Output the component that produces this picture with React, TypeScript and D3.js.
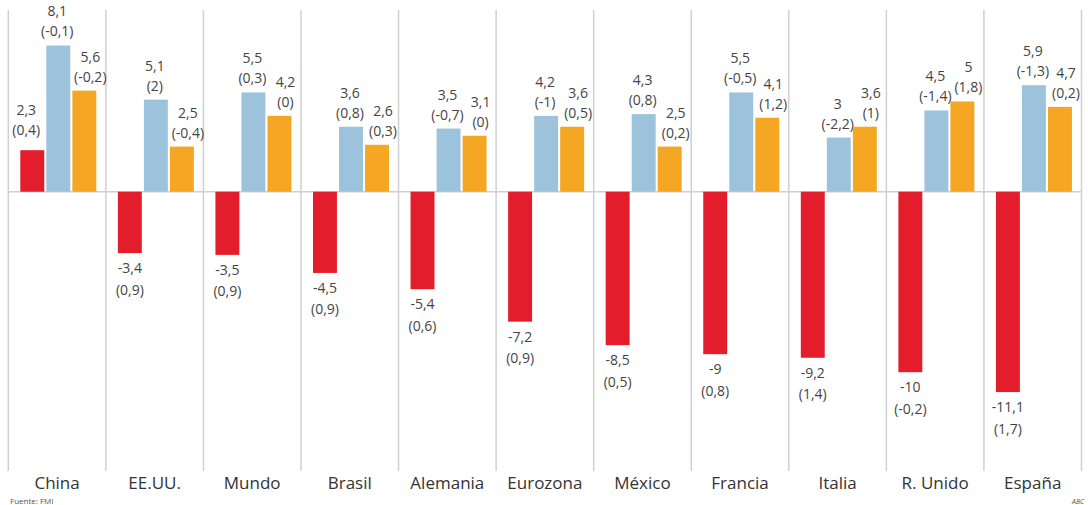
import React, { useEffect, useRef } from 'react';
import * as d3 from 'd3';

// categorias y valores (previsiones FMI: 2020, 2021 y variación)
const categories = ['China', 'EE.UU.', 'Mundo', 'Brasil', 'Alemania', 'Eurozona', 'México', 'Francia', 'Italia', 'R. Unido', 'España'];
const series = ['a2020', 'a2021', 'a2022'];
const values2020 = [2.3, -3.4, -3.5, -4.5, -5.4, -7.2, -8.5, -9, -9.2, -10, -11.1];
const changes2020 = ['0,4', '0,9', '0,9', '0,9', '0,6', '0,9', '0,5', '0,8', '1,4', '-0,2', '1,7'];
const values2021 = [8.1, 5.1, 5.5, 3.6, 3.5, 4.2, 4.3, 5.5, 3, 4.5, 5.9];
const changes2021 = ['-0,1', '2', '0,3', '0,8', '-0,7', '-1', '0,8', '-0,5', '-2,2', '-1,4', '-1,3'];
const values2022 = [5.6, 2.5, 4.2, 2.6, 3.1, 3.6, 2.5, 4.1, 3.6, 5, 4.7];
const changes2022 = ['-0,2', '-0,4', '0', '0,3', '0', '0,5', '0,2', '1,2', '1', '1,8', '0,2'];

const colors = ['#e41d2c', '#9dc3dc', '#f5a623'];
const fmt = (v: number) => String(v).replace('.', ',');

const Chart = () => {
  const svgRef = useRef<SVGSVGElement>(null);

  useEffect(() => {
    const width = 1088;
    const height = 505;
    const svg = d3.select(svgRef.current).attr('width', width).attr('height', height);
    svg.selectAll('*').remove();

    const x = d3.scaleBand().domain(categories).range([8.3, 1081.5]).paddingInner(0);
    const xSub = d3.scaleBand().domain(series).range([12, 88]).paddingInner(0.08);
    const y = d3.scaleLinear().domain([-12, 9]).range([191.7 + 12 * 18.05, 191.7 - 9 * 18.05]);

    const allValues = [values2020, values2021, values2022];
    const allChanges = [changes2020, changes2021, changes2022];
    const labelShift = [-6, -1, 6];

    // separadores verticales
    const bounds = [...categories.map(c => x(c)!), 1081.5];
    svg.append('g')
      .selectAll('line')
      .data(bounds)
      .join('line')
      .attr('x1', d => d).attr('x2', d => d)
      .attr('y1', 10).attr('y2', 471)
      .style('stroke', '#d0d0d0')
      .style('stroke-width', 1.5);

    // linea cero
    svg.append('line')
      .attr('x1', 8.3).attr('x2', 1081.5)
      .attr('y1', y(0)).attr('y2', y(0))
      .style('stroke', '#d0d0d0')
      .style('stroke-width', 1.5);

    series.forEach((s, si) => {
      const vals = allValues[si];
      const chg = allChanges[si];
      const g = svg.append('g');

      g.selectAll('rect')
        .data(categories)
        .join('rect')
        .attr('x', (c) => x(c)! + xSub(s)!)
        .attr('width', xSub.bandwidth())
        .attr('y', (c, i) => y(Math.max(0, vals[i])))
        .attr('height', (c, i) => Math.abs(y(vals[i]) - y(0)))
        .style('fill', colors[si]);

      const labels = g.selectAll('text.val')
        .data(categories)
        .join('text')
        .attr('class', 'val')
        .attr('text-anchor', 'middle')
        .style('font-family', '"Open Sans", sans-serif')
        .style('font-size', '14px')
        .style('fill', '#444');

      labels.each(function (c, i) {
        const v = vals[i];
        const cx = x(c)! + xSub(s)! + xSub.bandwidth() / 2 + (v >= 0 ? labelShift[si] : 0);
        const t = d3.select(this);
        if (v >= 0) {
          const top = y(v);
          const off = si === 0 ? 6 : 0;
          t.append('tspan').attr('x', cx).attr('y', top - 29 - off).text(fmt(v));
          t.append('tspan').attr('x', cx).attr('y', top - 9 - off).text(`(${chg[i]})`);
        } else {
          const bottom = y(v);
          t.append('tspan').attr('x', cx).attr('y', bottom + 20).text(fmt(v));
          t.append('tspan').attr('x', cx).attr('y', bottom + 41.5).text(`(${chg[i]})`);
        }
      });
    });

    // nombres de categorias
    svg.append('g')
      .selectAll('text')
      .data(categories)
      .join('text')
      .attr('x', c => x(c)! + x.bandwidth() / 2)
      .attr('y', 489)
      .attr('text-anchor', 'middle')
      .style('font-family', '"Open Sans", sans-serif')
      .style('font-size', '17px')
      .style('fill', '#333')
      .text(c => c);

    svg.append('text')
      .attr('x', 10).attr('y', 504)
      .style('font-family', '"Open Sans", sans-serif')
      .style('font-size', '8px')
      .style('fill', '#555')
      .text('Fuente: FMI');

    svg.append('text')
      .attr('x', 1072).attr('y', 504)
      .style('font-family', '"Open Sans", sans-serif')
      .style('font-size', '7px')
      .style('font-style', 'italic')
      .style('fill', '#555')
      .text('ABC');
  }, []);

  return <svg ref={svgRef} style={{ position: 'absolute', left: 0, top: 0 }}></svg>;
};

export default function App() {
  return <Chart />;
}
